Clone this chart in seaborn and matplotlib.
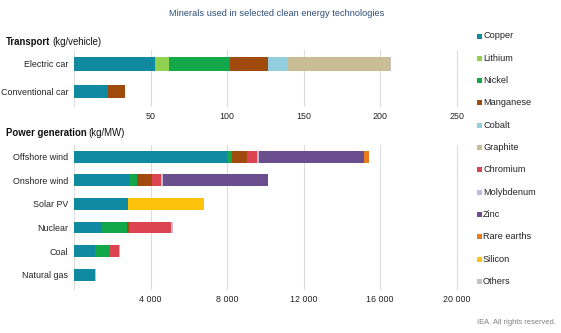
import matplotlib
matplotlib.use("Agg")
import matplotlib.pyplot as plt
import seaborn as sns
import numpy as np
import pandas as pd
from matplotlib.patches import Rectangle

sns.set_theme(style="white")
plt.rcParams['font.family'] = ['Liberation Sans', 'DejaVu Sans']

minerals = ["Copper", "Lithium", "Nickel", "Manganese", "Cobalt", "Graphite",
            "Chromium", "Molybdenum", "Zinc", "Rare earths", "Silicon", "Others"]
colors = ["#0f8aa0", "#92d050", "#12a84a", "#a14a0d", "#92cde0", "#c8bd96",
          "#dc4451", "#c7b7d8", "#6a4d8c", "#e87b1e", "#fdc30c", "#c3c3c3"]

transport_cats = ["Electric car", "Conventional car"]
transport_vals = {
    "Copper":      [53.2, 22.3],
    "Lithium":     [8.9, 0],
    "Nickel":      [39.9, 0],
    "Manganese":   [24.5, 11.2],
    "Cobalt":      [13.3, 0],
    "Graphite":    [66.3, 0],
    "Chromium":    [0, 0],
    "Molybdenum":  [0, 0],
    "Zinc":        [0, 0],
    "Rare earths": [0.5, 0],
    "Silicon":     [0, 0],
    "Others":      [0.3, 0],
}

power_cats = ["Offshore wind", "Onshore wind", "Solar PV", "Nuclear", "Coal", "Natural gas"]
power_vals = {
    "Copper":      [8000, 2900, 2820, 1470, 1120, 1100],
    "Lithium":     [0, 0, 0, 0, 0, 0],
    "Nickel":      [240, 400, 0, 1300, 730, 0],
    "Manganese":   [790, 780, 0, 110, 0, 0],
    "Cobalt":      [0, 0, 0, 0, 0, 0],
    "Graphite":    [0, 0, 0, 0, 0, 0],
    "Chromium":    [525, 470, 0, 2200, 480, 0],
    "Molybdenum":  [110, 100, 0, 70, 70, 0],
    "Zinc":        [5500, 5500, 0, 0, 0, 0],
    "Rare earths": [240, 0, 0, 0, 0, 0],
    "Silicon":     [0, 0, 3960, 0, 0, 0],
    "Others":      [0, 0, 0, 20, 0, 40],
}

W, H = 561, 333
fig = plt.figure(figsize=(W / 100, H / 100), dpi=100)

def px_rect(x0, y0, x1, y1):
    return [x0 / W, 1 - y1 / H, (x1 - x0) / W, (y1 - y0) / H]

ax1 = fig.add_axes(px_rect(74, 50, 466, 107))
ax2 = fig.add_axes(px_rect(74, 145, 466, 290))

def stacked(ax, cats, vals, height):
    df = pd.DataFrame(vals, index=cats)[minerals]
    cum = df.cumsum(axis=1)
    for m, c in reversed(list(zip(minerals, colors))):
        d = pd.DataFrame({"cat": cats, "v": cum[m].values})
        sns.barplot(data=d, x="v", y="cat", orient="h", color=c, width=height,
                    saturation=1, ax=ax, linewidth=0, order=cats)

stacked(ax1, transport_cats, transport_vals, 0.48)
stacked(ax2, power_cats, power_vals, 0.5)

ax1.set_xlim(0, 256)
ax1.set_xticks([0, 50, 100, 150, 200, 250])
ax1.set_xticklabels(["", "50", "100", "150", "200", "250"])
ax1.set_ylim(1.55, -0.5)
ax2.set_xlim(0, 20480)
ax2.set_xticks([0, 4000, 8000, 12000, 16000, 20000])
ax2.set_xticklabels(["", "4 000", "8 000", "12 000", "16 000", "20 000"])
ax2.set_ylim(5.65, -0.5)

for ax in (ax1, ax2):
    ax.set_xlabel("")
    ax.set_ylabel("")
    ax.set_axisbelow(True)
    ax.grid(axis="x", color="#dcdcdc", linewidth=0.8)
    ax.grid(axis="y", visible=False)
    for s in ax.spines.values():
        s.set_visible(False)
    ax.tick_params(axis="y", length=0, labelsize=6.4, colors="#222222", pad=4)
    ax.tick_params(axis="x", length=0, labelsize=6.4, colors="#222222", pad=3.5)

fig.text(277 / W, 1 - 14 / H, "Minerals used in selected clean energy technologies",
         ha="center", va="center", fontsize=6.7, color="#2f4f7a")

renderer = fig.canvas.get_renderer()
def heading(y, bold, rest):
    t = fig.text(6 / W, 1 - y / H, bold, ha="left", va="center", fontsize=6.9,
                 fontweight="bold", color="#111111")
    bb = t.get_window_extent(renderer)
    fig.text((bb.x1 + 2) / W, 1 - y / H, rest, ha="left", va="center", fontsize=6.9,
             color="#111111")

heading(42, "Transport", "(kg/vehicle)")
heading(133, "Power generation", "(kg/MW)")

for i, (m, c) in enumerate(zip(minerals, colors)):
    y = 36 + 22.3 * i
    fig.add_artist(Rectangle(((477) / W, 1 - (y + 2.5) / H), 5 / W, 5 / H,
                             transform=fig.transFigure, color=c, linewidth=0))
    fig.text(483 / W, 1 - y / H, m, ha="left", va="center", fontsize=6.6, color="#222222")

fig.text(556 / W, 1 - 323 / H, "IEA. All rights reserved.", ha="right", va="center",
         fontsize=5.4, color="#808080")

fig.savefig("out.png", dpi=100)
